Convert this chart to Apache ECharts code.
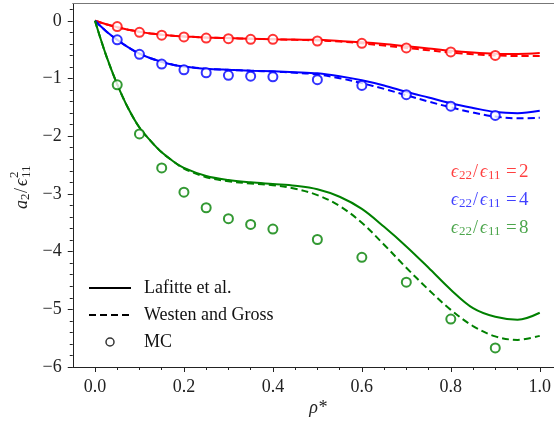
<!DOCTYPE html>
<html>
<head>
<meta charset="utf-8">
<script src="https://cdn.jsdelivr.net/npm/echarts@6/dist/echarts.min.js"></script>
<style>
  html, body { margin: 0; padding: 0; background: #fff; }
  #chart { width: 554px; height: 421px; }
</style>
</head>
<body>
<div id="chart"></div>
<script>
// Reduced density grid for the model curves
const rho = [0, 0.025, 0.05, 0.075, 0.1, 0.125, 0.15, 0.175, 0.2, 0.25, 0.3, 0.35, 0.4,
             0.45, 0.5, 0.55, 0.6, 0.65, 0.7, 0.75, 0.8, 0.85, 0.9, 0.95, 1.0];

// eps22/eps11 = 2
const lafitte2 = [0, -0.06, -0.11, -0.155, -0.19, -0.22, -0.24, -0.26, -0.27, -0.29, -0.30, -0.31, -0.32,
                  -0.325, -0.33, -0.35, -0.37, -0.40, -0.44, -0.48, -0.52, -0.55, -0.57, -0.575, -0.56];
const westen2  = [0, -0.06, -0.11, -0.155, -0.19, -0.22, -0.24, -0.26, -0.27, -0.29, -0.30, -0.31, -0.32,
                  -0.33, -0.34, -0.36, -0.39, -0.43, -0.47, -0.51, -0.55, -0.58, -0.60, -0.61, -0.61];
// eps22/eps11 = 4
const lafitte4 = [0, -0.18, -0.33, -0.46, -0.57, -0.65, -0.71, -0.76, -0.79, -0.83, -0.85, -0.865, -0.875,
                  -0.89, -0.91, -0.96, -1.03, -1.12, -1.23, -1.33, -1.43, -1.51, -1.58, -1.60, -1.56];
const westen4  = [0, -0.18, -0.33, -0.46, -0.57, -0.65, -0.71, -0.76, -0.79, -0.83, -0.85, -0.865, -0.88,
                  -0.90, -0.93, -0.995, -1.08, -1.18, -1.29, -1.40, -1.50, -1.59, -1.66, -1.69, -1.68];
// eps22/eps11 = 8
const lafitte8 = [0, -0.6, -1.1, -1.52, -1.85, -2.08, -2.28, -2.43, -2.55, -2.69, -2.76, -2.80, -2.83,
                  -2.86, -2.92, -3.05, -3.26, -3.57, -3.91, -4.28, -4.66, -4.98, -5.13, -5.18, -5.06];
const westen8  = [0, -0.6, -1.1, -1.52, -1.85, -2.08, -2.28, -2.43, -2.56, -2.71, -2.78, -2.82, -2.85,
                  -2.91, -3.02, -3.21, -3.50, -3.88, -4.28, -4.66, -5.01, -5.29, -5.47, -5.53, -5.46];

// Monte Carlo simulation points
const rhoMC = [0.05, 0.1, 0.15, 0.2, 0.25, 0.3, 0.35, 0.4, 0.5, 0.6, 0.7, 0.8, 0.9];
const mc2 = [-0.10, -0.20, -0.25, -0.28, -0.30, -0.31, -0.32, -0.32, -0.35, -0.39, -0.47, -0.54, -0.60];
const mc4 = [-0.33, -0.58, -0.75, -0.85, -0.90, -0.945, -0.96, -0.97, -1.02, -1.12, -1.28, -1.48, -1.64];
const mc8 = [-1.11, -1.96, -2.55, -2.97, -3.24, -3.43, -3.53, -3.61, -3.79, -4.10, -4.53, -5.17, -5.67];

// Axis ticks
const xMajor = [0, 0.2, 0.4, 0.6, 0.8, 1.0];
const xMinor = [0.05, 0.1, 0.15, 0.25, 0.3, 0.35, 0.45, 0.5, 0.55, 0.65, 0.7, 0.75, 0.85, 0.9, 0.95];
const yMajor = [-6, -5, -4, -3, -2, -1, 0];
const yMinor = [-5.8, -5.6, -5.4, -5.2, -4.8, -4.6, -4.4, -4.2, -3.8, -3.6, -3.4, -3.2,
                -2.8, -2.6, -2.4, -2.2, -1.8, -1.6, -1.4, -1.2, -0.8, -0.6, -0.4, -0.2, 0.2];

const legendNames = ['Lafitte et al.', 'Westen and Gross', 'MC'];

const RED = '#ff0000', BLUE = '#0000ff', GREEN = '#008000';
const SERIF = '"Liberation Serif", "DejaVu Serif", serif';
const FS = 18;
const DASH = [7, 4];

// Visible x-range (the plot's right side runs off the canvas edge)
const X_MIN = -0.05, X_MAX = 1.0315;

const zip = (xs, ys) => xs.map((x, i) => [x, ys[i]]);

function curve(name, ys, color, dashed) {
  return {
    name: name, type: 'line', data: zip(rho, ys), smooth: 0.35,
    symbol: 'none', z: 2, silent: true,
    lineStyle: { color: color, width: 2, type: dashed ? DASH : 'solid' },
    itemStyle: { color: color }
  };
}
function points(name, ys, color) {
  return {
    name: name, type: 'scatter', data: zip(rhoMC, ys),
    symbol: 'emptyCircle', symbolSize: 9, z: 3, silent: true,
    itemStyle: { color: color, borderColor: color, borderWidth: 1.3 }
  };
}

// Small math-text builder: pieces placed left to right with sub/superscripts
function mathPieces(parts, color) {
  return parts.map(p => ({
    type: 'text', x: p.x, y: p.dy || 0,
    style: {
      text: p.t, fill: color, font: (p.it ? 'italic ' : '') + (p.s || FS) + 'px ' + SERIF,
      textAlign: 'left', textVerticalAlign: 'middle'
    }
  }));
}
function ratioLabel(val) {
  return [
    { t: 'ϵ', x: 0, it: true },
    { t: '22', x: 8, dy: 4, s: 13 },
    { t: '/', x: 22 },
    { t: 'ϵ', x: 29, it: true },
    { t: '11', x: 37, dy: 4, s: 13 },
    { t: '=', x: 55, s: 19 },
    { t: String(val), x: 68, s: 19 }
  ];
}

const chart = echarts.init(document.getElementById('chart'), null, { renderer: 'canvas' });

const axisCommon = { lineStyle: { color: '#222', width: 1 } };

chart.setOption({
  animation: false,
  backgroundColor: '#fff',
  grid: { left: 72.75, top: 3.5, right: 0, height: 363.5, containLabel: false },
  legend: {
    orient: 'vertical', left: 83, top: 273,
    itemWidth: 42, itemHeight: 8, itemGap: 7,
    textStyle: { fontFamily: SERIF, fontSize: FS, color: '#111', lineHeight: 20, padding: [0, 0, 0, 8] },
    data: [
      { name: legendNames[0], itemStyle: { opacity: 0 } },
      { name: legendNames[1], itemStyle: { opacity: 0 } },
      { name: legendNames[2], icon: 'circle', itemStyle: { color: '#fff', borderColor: '#000', borderWidth: 1.5 } }
    ]
  },
  xAxis: [
    {
      type: 'value', min: X_MIN, max: X_MAX, position: 'bottom',
      axisLine: { show: true, onZero: false, ...axisCommon },
      axisTick: { show: true, customValues: xMajor, length: 5, lineStyle: { color: '#222' } },
      axisLabel: {
        customValues: xMajor, margin: 11, fontFamily: SERIF, fontSize: FS, color: '#222',
        formatter: v => v.toFixed(1)
      },
      splitLine: { show: false }
    },
    {
      type: 'value', min: X_MIN, max: X_MAX, position: 'bottom', offset: 0,
      axisLine: { show: false, onZero: false },
      axisTick: { show: true, customValues: xMinor, length: 3, lineStyle: { color: '#222' } },
      axisLabel: { show: false },
      splitLine: { show: false }
    },
    {
      type: 'value', min: X_MIN, max: X_MAX, position: 'top',
      axisLine: { show: true, onZero: false, lineStyle: { color: '#777', width: 1.2 } },
      axisTick: { show: false }, axisLabel: { show: false }, splitLine: { show: false }
    }
  ],
  yAxis: [
    {
      type: 'value', min: -6, max: 0.3, position: 'left',
      axisLine: { show: true, onZero: false, ...axisCommon },
      axisTick: { show: true, customValues: yMajor, length: 5, lineStyle: { color: '#222' } },
      axisLabel: {
        customValues: yMajor, margin: 11, fontFamily: SERIF, fontSize: FS, color: '#222',
        formatter: v => String(v).replace('-', '\u2212')
      },
      splitLine: { show: false }
    },
    {
      type: 'value', min: -6, max: 0.3, position: 'left', offset: 0,
      axisLine: { show: false, onZero: false },
      axisTick: { show: true, customValues: yMinor, length: 3, lineStyle: { color: '#222' } },
      axisLabel: { show: false },
      splitLine: { show: false }
    }
  ],
  series: [
    curve('Lafitte, ratio 2', lafitte2, RED, false),
    curve('Westen, ratio 2', westen2, RED, true),
    curve('Lafitte, ratio 4', lafitte4, BLUE, false),
    curve('Westen, ratio 4', westen4, BLUE, true),
    curve('Lafitte, ratio 8', lafitte8, GREEN, false),
    curve('Westen, ratio 8', westen8, GREEN, true),
    points('MC, ratio 2', mc2, RED),
    points('MC, ratio 4', mc4, BLUE),
    points('MC, ratio 8', mc8, GREEN),
    // legend entries in black
    { name: legendNames[0], type: 'line', data: [], symbol: 'none',
      lineStyle: { color: '#000', width: 2 }, itemStyle: { color: '#000' } },
    { name: legendNames[1], type: 'line', data: [], symbol: 'none',
      lineStyle: { color: '#000', width: 2, type: DASH }, itemStyle: { color: '#000' } },
    { name: legendNames[2], type: 'scatter', data: [], symbol: 'emptyCircle', symbolSize: 8,
      itemStyle: { color: '#000' } }
  ],
  graphic: [
    { type: 'group', x: 451, y: 172, silent: true, children: mathPieces(ratioLabel(2), 'rgba(255,0,0,0.75)') },
    { type: 'group', x: 451, y: 200, silent: true, children: mathPieces(ratioLabel(4), 'rgba(0,0,255,0.75)') },
    { type: 'group', x: 451, y: 228, silent: true, children: mathPieces(ratioLabel(8), 'rgba(0,128,0,0.7)') },
    {
      type: 'group', x: 22, y: 186, rotation: Math.PI / 2, silent: true,
      children: mathPieces([
        { t: 'a', x: -23, it: true },
        { t: '2', x: -14, dy: 4, s: 13 },
        { t: '/', x: -7 },
        { t: 'ϵ', x: 0, it: true },
        { t: '2', x: 8, dy: -7, s: 13 },
        { t: '11', x: 8, dy: 5, s: 13 }
      ], '#222')
    },
    {
      type: 'text', x: 318, y: 408, silent: true,
      style: { text: 'ρ*', fill: '#222', font: 'italic ' + FS + 'px ' + SERIF, textAlign: 'center', textVerticalAlign: 'middle' }
    }
  ]
});
</script>
</body>
</html>
